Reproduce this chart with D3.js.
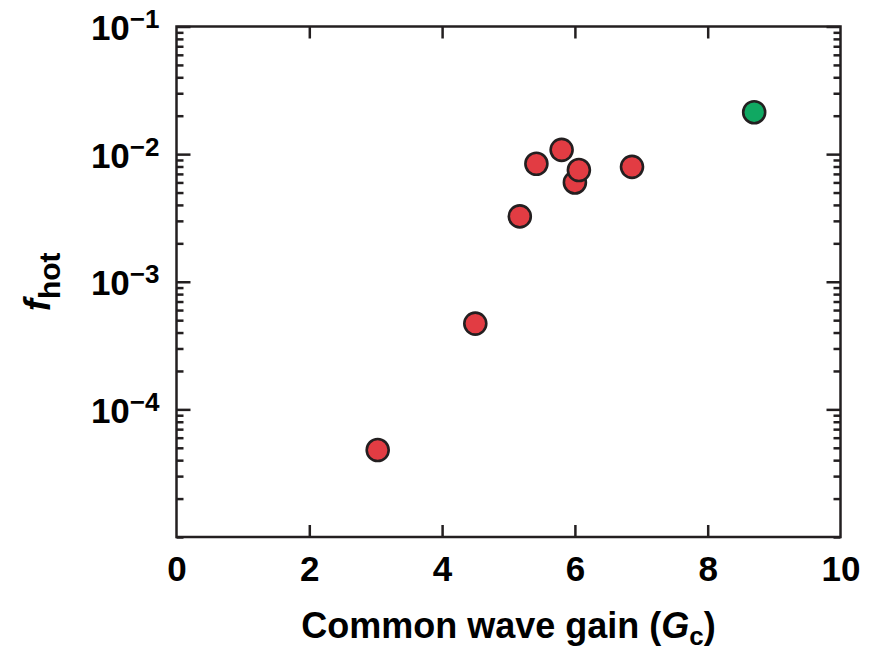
<!DOCTYPE html>
<html>
  <head>
    <title>fhot vs common wave gain</title>
    <script src="https://d3js.org/d3.v7.min.js"></script>
    <style>
      body { margin: 0; background: #fff; }
      svg { font-family: "Liberation Sans", Arial, sans-serif; font-weight: bold; }
      .axis .domain { display: none; }
      .axis .tick line { stroke: #231f20; stroke-width: 2.5px; }
      .axis .tick text { font-family: "Liberation Sans", Arial, sans-serif; font-size: 35px; font-weight: bold; fill: #000; }
      .frame { fill: none; stroke: #231f20; stroke-width: 2.5px; }
      .axis-label { font-size: 36px; fill: #000; }
      .dot { stroke: #231f20; stroke-width: 2.6px; }
    </style>
  </head>
  <body>
    <svg width="871" height="650"></svg>
    <script>
      // values
      const gain = [3.03, 4.5, 5.17, 5.42, 5.8, 6.0, 6.06, 6.86, 8.7];
      const fhot = [4.8e-5, 4.7e-4, 3.25e-3, 8.4e-3, 1.08e-2, 6.0e-3, 7.5e-3, 7.95e-3, 2.13e-2];
      const group = ["red", "red", "red", "red", "red", "red", "red", "red", "green"];
      const xTicks = [0, 2, 4, 6, 8, 10];
      const yDecades = [-1, -2, -3, -4];

      const colors = {red: "#e23c43", green: "#10a862"};
      const data = gain.map((g, i) => ({g: g, f: fhot[i], c: group[i]}));

      const margin = {top: 26.5, right: 30.5, bottom: 113, left: 176.5};
      const svg = d3.select("svg");
      const width = +svg.attr("width");
      const height = +svg.attr("height");
      const innerWidth = width - margin.left - margin.right;
      const innerHeight = height - margin.top - margin.bottom;

      const xScale = d3.scaleLinear().domain([0, 10]).range([0, innerWidth]);
      const yScale = d3.scaleLog().domain([1e-5, 1e-1]).range([innerHeight, 0]);

      const g = svg.append("g")
        .attr("transform", `translate(${margin.left}, ${margin.top})`);

      const majors = yDecades.map(d => Math.pow(10, d));
      const minors = yScale.ticks().filter(v => !majors.some(m => Math.abs(v - m) / m < 1e-6));
      const innerX = xTicks.filter(v => v > 0 && v < 10);

      // tick-only axes (mirror + minor), ticks pointing inward
      function tickAxis(axis, shift) {
        const a = g.append("g").attr("class", "axis")
          .attr("transform", shift || null)
          .call(axis);
        a.selectAll("text").remove();
        return a;
      }
      tickAxis(d3.axisLeft(yScale).tickValues(minors).tickSize(-7));
      tickAxis(d3.axisRight(yScale).tickValues(minors).tickSize(-7), `translate(${innerWidth}, 0)`);
      tickAxis(d3.axisRight(yScale).tickValues(majors).tickSize(-14), `translate(${innerWidth}, 0)`);
      tickAxis(d3.axisTop(xScale).tickValues(innerX).tickSize(-12));

      // labelled left axis: 10^n
      const yAxisG = g.append("g").attr("class", "axis")
        .call(d3.axisLeft(yScale).tickValues(majors).tickSize(-14).tickPadding(17));
      yAxisG.selectAll(".tick text")
        .attr("dy", 13)
        .text("")
        .each(function(d) {
          const t = d3.select(this);
          t.append("tspan").text("10");
          t.append("tspan")
            .attr("dy", -12)
            .style("font-size", "26px")
            .text("\u2212" + Math.round(Math.abs(Math.log10(d))));
        });

      // labelled bottom axis
      const xAxisG = g.append("g").attr("class", "axis")
        .attr("transform", `translate(0, ${innerHeight})`)
        .call(d3.axisBottom(xScale).tickValues(xTicks).tickSize(-12).tickFormat(d3.format("d")));
      xAxisG.selectAll(".tick line").filter(d => d === 0 || d === 10).remove();
      xAxisG.selectAll(".tick text").attr("y", 44).attr("dy", null);

      g.append("rect")
        .attr("class", "frame")
        .attr("width", innerWidth)
        .attr("height", innerHeight);

      // axis titles
      const xTitle = g.append("text")
        .attr("class", "axis-label")
        .attr("text-anchor", "middle")
        .attr("x", innerWidth / 2)
        .attr("y", innerHeight + 101);
      xTitle.append("tspan").text("Common wave gain (");
      xTitle.append("tspan").style("font-style", "italic").text("G");
      xTitle.append("tspan").attr("dy", 7).style("font-size", "26px").text("c");
      xTitle.append("tspan").attr("dy", -7).text(")");

      const yTitle = g.append("text")
        .attr("class", "axis-label")
        .attr("text-anchor", "middle")
        .attr("transform", `translate(${50 - margin.left}, ${innerHeight / 2}) rotate(-90)`);
      yTitle.append("tspan").style("font-style", "italic").text("f");
      yTitle.append("tspan").attr("dy", 10).style("font-size", "30px").text("hot");

      g.selectAll(".dot").data(data)
        .enter().append("circle")
          .attr("class", "dot")
          .attr("r", 11)
          .attr("cx", d => xScale(d.g))
          .attr("cy", d => yScale(d.f))
          .attr("fill", d => colors[d.c]);
    </script>
  </body>
</html>
